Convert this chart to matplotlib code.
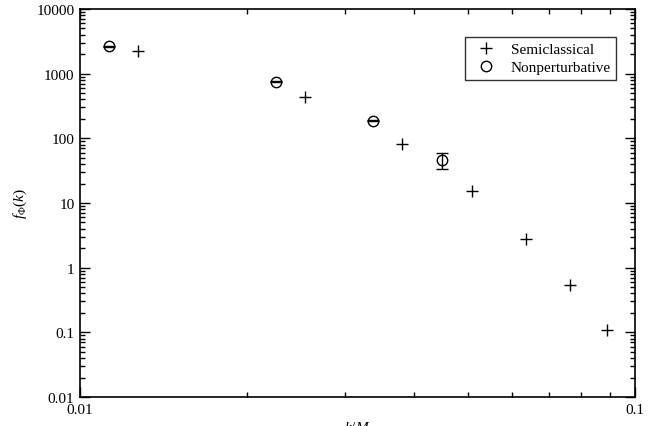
import matplotlib
matplotlib.use("Agg")
import matplotlib.pyplot as plt
from matplotlib.lines import Line2D
from matplotlib.ticker import LogLocator, FixedFormatter, FixedLocator, NullFormatter

plt.rcParams['font.family'] = ['Liberation Serif', 'DejaVu Serif']
plt.rcParams['mathtext.fontset'] = 'custom'
plt.rcParams['mathtext.rm'] = 'Liberation Serif'
plt.rcParams['mathtext.it'] = 'Liberation Serif:italic'

# Data
semi_k = [0.01274, 0.02547, 0.0381, 0.0509, 0.0636, 0.0763, 0.0889]
semi_f = [2218, 440, 81.7, 15.2, 2.81, 0.545, 0.1087]
nonp_k = [0.01128, 0.02253, 0.03369, 0.04495]
nonp_f = [2650, 751, 187.5, 46.0]
nonp_err = [60, 18, 5, 13]

xticks = [0.01, 0.1]
xticklabels = ['0.01', '0.1']
yticks = [0.01, 0.1, 1, 10, 100, 1000, 10000]
yticklabels = ['0.01', '0.1', '1', '10', '100', '1000', '10000']

W, H = 657, 427
fig = plt.figure(figsize=(W / 100, H / 100), dpi=100)
ax = fig.add_axes([80 / W, 1 - 398 / H, 555 / W, 388 / H])

ax.plot(semi_k, semi_f, linestyle='none', marker='+', color='black',
        markersize=8, markeredgewidth=1.0)
ax.errorbar(nonp_k, nonp_f, yerr=nonp_err, linestyle='none', marker='o',
            markerfacecolor='none', markeredgecolor='black', markersize=7.5,
            markeredgewidth=1.0, ecolor='black', elinewidth=1.0, capsize=4.5,
            capthick=1.0)

ax.set_xscale('log')
ax.set_yscale('log')
ax.set_xlim(0.01, 0.1)
ax.set_ylim(0.01, 10000)

ax.xaxis.set_major_locator(FixedLocator(xticks))
ax.xaxis.set_major_formatter(FixedFormatter(xticklabels))
ax.xaxis.set_minor_locator(LogLocator(base=10, subs=range(2, 10)))
ax.xaxis.set_minor_formatter(NullFormatter())
ax.yaxis.set_major_locator(FixedLocator(yticks))
ax.yaxis.set_major_formatter(FixedFormatter(yticklabels))
ax.yaxis.set_minor_locator(LogLocator(base=10, subs=range(2, 10), numticks=20))
ax.yaxis.set_minor_formatter(NullFormatter())

ax.tick_params(which='both', direction='in', top=True, right=True, width=1.0,
               labelsize=11, pad=4)
ax.tick_params(which='major', length=7.5)
ax.tick_params(which='minor', length=3.8)
for s in ax.spines.values():
    s.set_linewidth(1.2)

fig.text(20 / W, 1 - 204 / H, r'$f_\Phi(k)$', rotation=90, ha='center',
         va='center', fontsize=11)
fig.text(357 / W, 1 - 421 / H, r'$k/M$', ha='center', va='top', fontsize=11)

handles = [
    Line2D([], [], linestyle='none', marker='+', color='black', markersize=8,
           markeredgewidth=1.0),
    Line2D([], [], linestyle='none', marker='o', markerfacecolor='none',
           markeredgecolor='black', markersize=7.5, markeredgewidth=1.0),
]
labels = ['Semiclassical', 'Nonperturbative']
leg = ax.legend(handles, labels, loc='upper right',
                bbox_to_anchor=((616 - 80) / 555, 1 - 28 / 388),
                bbox_transform=ax.transAxes, fontsize=11, frameon=True,
                fancybox=False, edgecolor='black', borderpad=0.35,
                labelspacing=0.3, handlelength=2.0, handletextpad=0.6,
                borderaxespad=0)
leg.get_frame().set_linewidth(1.0)

fig.savefig('out.png', dpi=100)
